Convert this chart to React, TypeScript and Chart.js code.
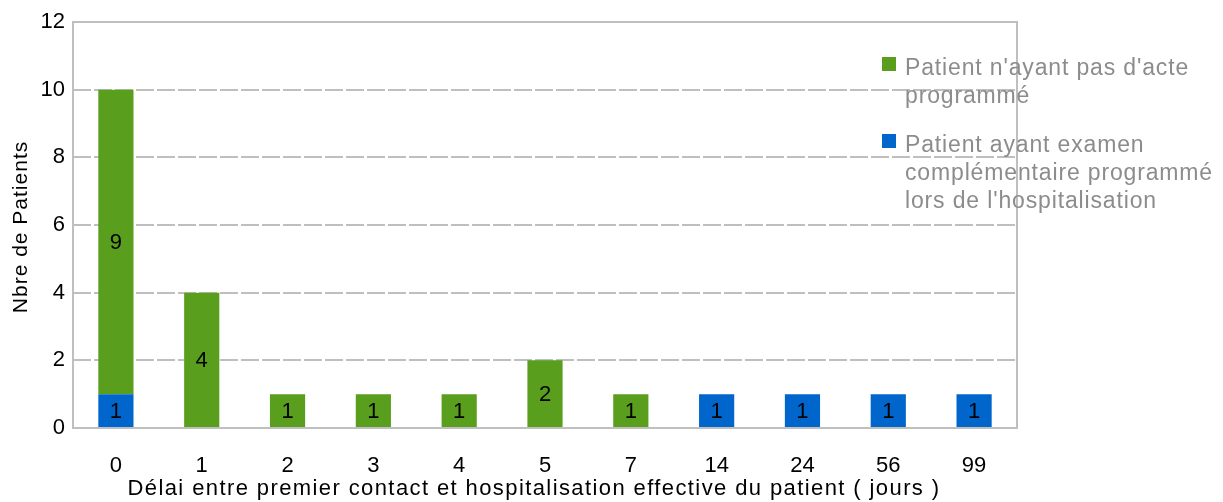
import React, { useEffect, useRef } from "react";
import { Chart, registerables } from "chart.js";

Chart.register(...registerables);

const categories = ["0", "1", "2", "3", "4", "5", "7", "14", "24", "56", "99"];
const blueValues = [1, 0, 0, 0, 0, 0, 0, 1, 1, 1, 1];
const greenValues = [9, 4, 1, 1, 1, 2, 1, 0, 0, 0, 0];
const greenLabel = ["Patient n'ayant pas d'acte", "programmé"];
const blueLabel = ["Patient ayant examen", "complémentaire programmé", "lors de l'hospitalisation"];
const yTitle = "Nbre de Patients";
const xTitle = "Délai entre premier contact et hospitalisation effective du patient ( jours )";

const GREEN = "#5A9E1E";
const BLUE = "#0066CC";
const GRID = "#BFBFBF";
const FONT = "'Liberation Sans', Arial, sans-serif";

const framePlugin = {
  id: "frame",
  afterDatasetsDraw(chart: any) {
    const { ctx, chartArea: a } = chart;
    ctx.save();
    ctx.strokeStyle = GRID;
    ctx.lineWidth = 2;
    ctx.setLineDash([]);
    ctx.strokeRect(a.left, a.top, a.right - a.left, a.bottom - a.top);
    ctx.restore();
  },
};

const valueLabelPlugin = {
  id: "valueLabels",
  afterDatasetsDraw(chart: any) {
    const { ctx } = chart;
    ctx.save();
    ctx.font = `22px ${FONT}`;
    ctx.fillStyle = "#000";
    ctx.textAlign = "center";
    ctx.textBaseline = "middle";
    chart.data.datasets.forEach((ds: any, di: number) => {
      const meta = chart.getDatasetMeta(di);
      meta.data.forEach((bar: any, i: number) => {
        const v = ds.data[i];
        if (!v) return;
        const y = (bar.y + bar.base) / 2;
        ctx.fillText(String(v), bar.x, y + 1);
      });
    });
    ctx.restore();
  },
};

const titlesPlugin = {
  id: "titles",
  afterDraw(chart: any) {
    const { ctx, chartArea: a } = chart;
    ctx.save();
    ctx.fillStyle = "#000";
    ctx.font = `22px ${FONT}`;
    (ctx as any).letterSpacing = "1.4px";
    ctx.textAlign = "center";
    ctx.textBaseline = "alphabetic";
    ctx.fillText(xTitle, 534, 495);
    ctx.translate(27, (a.top + a.bottom) / 2 + 2);
    ctx.rotate(-Math.PI / 2);
    (ctx as any).letterSpacing = "1px";
    ctx.font = `21px ${FONT}`;
    ctx.fillText(yTitle, 0, 0);
    ctx.restore();
  },
};

const legendPlugin = {
  id: "customLegend",
  afterDraw(chart: any) {
    const { ctx } = chart;
    ctx.save();
    ctx.font = `23px ${FONT}`;
    (ctx as any).letterSpacing = "0.85px";
    ctx.textAlign = "left";
    ctx.textBaseline = "alphabetic";
    const items = [
      { color: GREEN, lines: greenLabel, y: 75 },
      { color: BLUE, lines: blueLabel, y: 152 },
    ];
    items.forEach((it) => {
      ctx.fillStyle = it.color;
      ctx.fillRect(882, it.y - 18, 14, 14);
      ctx.fillStyle = "#8C8C8C";
      it.lines.forEach((l, k) => ctx.fillText(l, 905, it.y + k * 28));
    });
    ctx.restore();
  },
};

export default function App() {
  const ref = useRef<HTMLCanvasElement>(null);
  useEffect(() => {
    const chart = new Chart(ref.current!, {
      type: "bar",
      data: {
        labels: categories,
        datasets: [
          { label: blueLabel.join(" "), data: blueValues, backgroundColor: BLUE, barPercentage: 0.41, categoryPercentage: 1 },
          { label: greenLabel.join(" "), data: greenValues, backgroundColor: GREEN, barPercentage: 0.41, categoryPercentage: 1 },
        ],
      },
      options: {
        animation: false,
        responsive: false,
        maintainAspectRatio: false,
        layout: { padding: { left: 0, right: 206, top: 22, bottom: 0 } },
        plugins: { legend: { display: false }, tooltip: { enabled: false } },
        scales: {
          x: {
            stacked: true,
            grid: { display: false, drawTicks: false },
            border: { display: false },
            ticks: { color: "#000", font: { family: FONT, size: 22 }, padding: 25 },
            title: { display: false },
            afterFit: (s: any) => { s.height = 74; },
          },
          y: {
            stacked: true,
            min: 0,
            max: 12,
            ticks: { stepSize: 2, color: "#000", font: { family: FONT, size: 22 }, padding: 8 },
            grid: { color: GRID, lineWidth: 2, drawTicks: false },
            border: { display: false, dash: [18, 3] },
            title: { display: false },
            afterFit: (s: any) => { s.width = 73; },
          },
        },
      },
      plugins: [framePlugin, valueLabelPlugin, titlesPlugin, legendPlugin],
    });
    return () => chart.destroy();
  }, []);
  return (
    <div style={{ position: "fixed", left: 0, top: 0, width: 1223, height: 502, background: "#fff" }}>
      <canvas ref={ref} width={1223} height={502} style={{ width: 1223, height: 502 }} />
    </div>
  );
}
